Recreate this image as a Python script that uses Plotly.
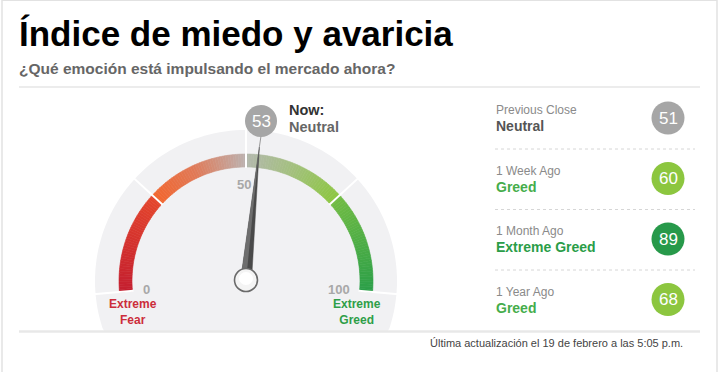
import math
import plotly.graph_objects as go

# ---------------- data ----------------
title_text = "Índice de miedo y avaricia"
subtitle_text = "¿Qué emoción está impulsando el mercado ahora?"
current_value = 53
current_rating = "Neutral"
gauge_ticks = [0, 50, 100]
zone_bounds = [0, 25, 50, 75, 100]
end_labels = ["Extreme<br>Fear", "Extreme<br>Greed"]
history_labels = ["Previous Close", "1 Week Ago", "1 Month Ago", "1 Year Ago"]
history_values = [51, 60, 89, 68]
history_ratings = ["Neutral", "Greed", "Extreme Greed", "Greed"]
footer_text = "Última actualización el 19 de febrero a las 5:05 p.m."

# ---------------- styles ----------------
W, H = 721, 372
CX, CY = 246, 281
R_DISK = 151
R_OUT, R_IN = 127, 114
A0, A1 = 185.0, -5.0   # angle for value 0 and 100 (degrees)
FONT = "Liberation Sans, Arial, sans-serif"

rating_circle = {"Neutral": "#a6a6a6", "Greed": "#8cc63f", "Extreme Greed": "#27994a"}
rating_text = {"Neutral": "#555555", "Greed": "#45ad4b", "Extreme Greed": "#2a9d48"}

# colour stops for each zone (value, colour)
zone_stops = [
    [(0, "#c41f2f"), (25, "#e4452c")],
    [(25, "#f2652d"), (37, "#e07a58"), (50, "#bcb2b0")],
    [(50, "#b3b8ae"), (62, "#a3c07e"), (75, "#8cc63f")],
    [(75, "#72bc43"), (100, "#2b9f48")],
]


def ang(v):
    return math.radians(A0 + (A1 - A0) * v / 100.0)


def pt(v, r):
    a = ang(v)
    return CX + r * math.cos(a), CY - r * math.sin(a)


def hex2rgb(h):
    h = h.lstrip("#")
    return tuple(int(h[i:i + 2], 16) for i in (0, 2, 4))


def interp(stops, v):
    for (v0, c0), (v1, c1) in zip(stops[:-1], stops[1:]):
        if v0 <= v <= v1:
            t = (v - v0) / (v1 - v0) if v1 > v0 else 0
            a, b = hex2rgb(c0), hex2rgb(c1)
            return "rgb(%d,%d,%d)" % tuple(round(a[i] + (b[i] - a[i]) * t) for i in range(3))
    return stops[-1][1]


shapes = []
annotations = []

# page border
shapes.append(dict(type="line", x0=2, x1=2, y0=0, y1=H, line=dict(color="#e2e2e2", width=1.5)))
shapes.append(dict(type="line", x0=717, x1=717, y0=0, y1=H, line=dict(color="#e2e2e2", width=1.5)))
shapes.append(dict(type="line", x0=2, x1=717, y0=0.5, y1=0.5, line=dict(color="#e2e2e2", width=1)))

# grey disk clipped at bottom rule
pts = []
for i in range(0, 361, 2):
    a = math.radians(i)
    x = CX + R_DISK * math.cos(a)
    y = min(CY - R_DISK * math.sin(a), 331)
    pts.append((x, y))
path = "M " + " L ".join("%.2f,%.2f" % p for p in pts) + " Z"
shapes.append(dict(type="path", path=path, fillcolor="#f1f1f3", line=dict(width=0), layer="below"))

# gradient arc
for zi, stops in enumerate(zone_stops):
    v_lo, v_hi = zone_bounds[zi], zone_bounds[zi + 1]
    n = 40
    for k in range(n):
        va = v_lo + (v_hi - v_lo) * k / n
        vb = v_lo + (v_hi - v_lo) * (k + 1) / n
        vm = (va + vb) / 2
        col = interp(stops, vm)
        p1, p2 = pt(va, R_OUT), pt(vb, R_OUT)
        p3, p4 = pt(vb, R_IN), pt(va, R_IN)
        path = "M %.2f,%.2f L %.2f,%.2f L %.2f,%.2f L %.2f,%.2f Z" % (*p1, *p2, *p3, *p4)
        shapes.append(dict(type="path", path=path, fillcolor=col, line=dict(color=col, width=0.6)))

# white zone dividers
for v in zone_bounds:
    (x0, y0), (x1, y1) = pt(v, R_IN - 1), pt(v, R_DISK + 2)
    shapes.append(dict(type="line", x0=x0, y0=y0, x1=x1, y1=y1, line=dict(color="#ffffff", width=2)))

# tick labels
for v in gauge_ticks:
    if v == 50:
        x, y = CX - 2, 184
    elif v == 0:
        x, y = 146, 289
    else:
        x, y = 339, 289
    annotations.append(dict(x=x, y=y, text="<b>%d</b>" % v, showarrow=False, xanchor="center", yanchor="middle",
                            font=dict(family=FONT, size=13, color="#a8a8a8")))

annotations.append(dict(x=133, y=312, text="<b>%s</b>" % end_labels[0], showarrow=False, xanchor="center",
                        yanchor="middle", font=dict(family=FONT, size=12, color="#cc2d3b")))
annotations.append(dict(x=357, y=312, text="<b>%s</b>" % end_labels[1], showarrow=False, xanchor="center",
                        yanchor="middle", font=dict(family=FONT, size=12, color="#2e9e48")))

# needle
a = ang(current_value)
tip = pt(current_value, 135)
perp = (math.sin(a), math.cos(a))  # perpendicular in screen coords
bw = 5.5
bl = (CX - perp[0] * bw, CY - perp[1] * bw)
br = (CX + perp[0] * bw, CY + perp[1] * bw)
shapes.append(dict(type="path", path="M %.2f,%.2f L %.2f,%.2f L %.2f,%.2f Z" % (*bl, *tip, *br),
                   fillcolor="#4a4a4a", line=dict(color="#4a4a4a", width=0.5)))
shapes.append(dict(type="path", path="M %.2f,%.2f L %.2f,%.2f L %.2f,%.2f Z" % (*bl, *tip, CX, CY),
                   fillcolor="#6e6e6e", line=dict(width=0)))

# pivot
shapes.append(dict(type="circle", x0=CX - 11.5, x1=CX + 11.5, y0=CY - 12.5, y1=CY + 10.5,
                   fillcolor="#f4f4f4", line=dict(color="#6a6a6a", width=1.6)))
shapes.append(dict(type="circle", x0=CX - 7, x1=CX + 7, y0=CY - 9, y1=CY + 4,
                   fillcolor="#ffffff", line=dict(width=0)))

# current value marker
mx, my = 261, 121
shapes.append(dict(type="line", x0=mx, y0=my + 15, x1=tip[0], y1=tip[1], line=dict(color="#9a9a9a", width=1)))
shapes.append(dict(type="circle", x0=mx - 16, x1=mx + 16, y0=my - 16, y1=my + 16,
                   fillcolor=rating_circle[current_rating], line=dict(width=0)))
annotations.append(dict(x=mx, y=my, text=str(current_value), showarrow=False, xanchor="center", yanchor="middle",
                        font=dict(family=FONT, size=17, color="#ffffff")))
annotations.append(dict(x=287, y=110, text="<b>Now:</b>", showarrow=False, xanchor="left", yanchor="middle",
                        font=dict(family=FONT, size=14.5, color="#333333")))
annotations.append(dict(x=287, y=127, text="<b>%s</b>" % current_rating, showarrow=False, xanchor="left",
                        yanchor="middle", font=dict(family=FONT, size=14.5, color="#666666")))

# history panel
row_y0, row_dy = 118, 60.5
for i, (lab, val, rat) in enumerate(zip(history_labels, history_values, history_ratings)):
    cy = row_y0 + i * row_dy
    annotations.append(dict(x=494, y=cy - 8, text=lab, showarrow=False, xanchor="left", yanchor="middle",
                            font=dict(family=FONT, size=12, color="#8a8a8a")))
    annotations.append(dict(x=494, y=cy + 8, text="<b>%s</b>" % rat, showarrow=False, xanchor="left",
                            yanchor="middle", font=dict(family=FONT, size=14, color=rating_text[rat])))
    shapes.append(dict(type="circle", x0=668 - 16.5, x1=668 + 16.5, y0=cy - 16.5, y1=cy + 16.5,
                       fillcolor=rating_circle[rat], line=dict(width=0)))
    annotations.append(dict(x=668, y=cy, text=str(val), showarrow=False, xanchor="center", yanchor="middle",
                            font=dict(family=FONT, size=17, color="#ffffff")))
    if i < len(history_labels) - 1:
        yy = cy + 31
        shapes.append(dict(type="line", x0=495, x1=695, y0=yy, y1=yy,
                           line=dict(color="#d6d6d6", width=1, dash="dot")))

# rules
shapes.append(dict(type="line", x0=19, x1=700, y0=87, y1=87, line=dict(color="#e6e6e6", width=1.5)))
shapes.append(dict(type="line", x0=19, x1=700, y0=331.5, y1=331.5, line=dict(color="#e8e8e8", width=2.5)))

# title texts
annotations.append(dict(x=17, y=33, text="<b>%s</b>" % title_text, showarrow=False, xanchor="left",
                        yanchor="middle", font=dict(family=FONT, size=35, color="#000000")))
annotations.append(dict(x=17, y=68, text="<b>%s</b>" % subtitle_text, showarrow=False, xanchor="left",
                        yanchor="middle", font=dict(family=FONT, size=15.5, color="#666666")))
annotations.append(dict(x=685, y=343, text=footer_text, showarrow=False, xanchor="right", yanchor="middle",
                        font=dict(family=FONT, size=11, color="#444444")))

fig = go.Figure()
fig.add_trace(go.Scatter(x=[0, W], y=[0, H], mode="markers", marker=dict(opacity=0), hoverinfo="skip",
                         showlegend=False))
fig.update_layout(width=W, height=H, margin=dict(l=0, r=0, t=0, b=0), paper_bgcolor="#ffffff",
                  plot_bgcolor="#ffffff", shapes=shapes, annotations=annotations, showlegend=False)
fig.update_xaxes(range=[0, W], visible=False, fixedrange=True)
fig.update_yaxes(range=[H, 0], visible=False, fixedrange=True)
fig.write_html("out.html")
